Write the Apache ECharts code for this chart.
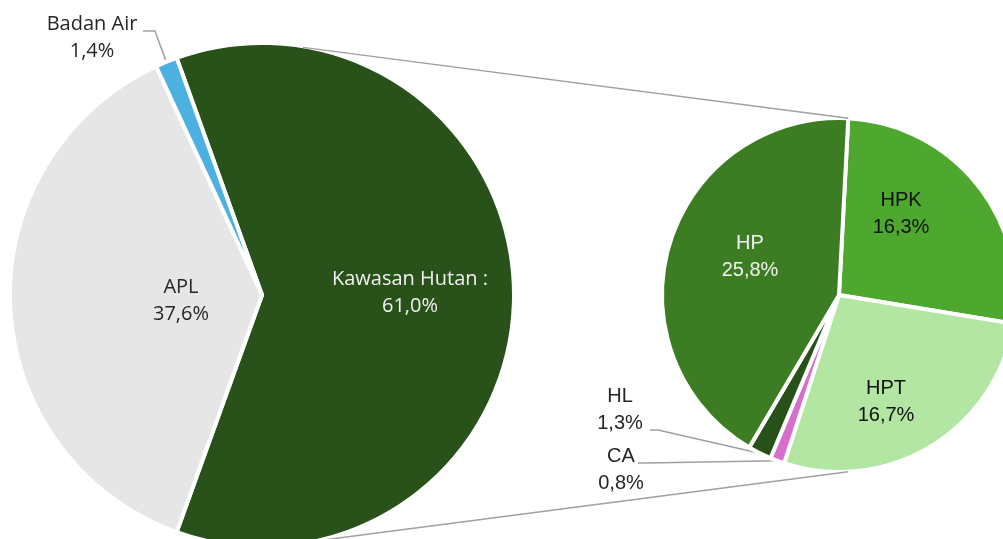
<!DOCTYPE html>
<html><head><meta charset="utf-8">
<script src="https://cdn.jsdelivr.net/npm/echarts@6/dist/echarts.min.js"></script>
<style>html,body{margin:0;padding:0;background:#fff}#c{width:1003px;height:539px}</style>
</head><body><div id="c"></div>
<script>
// ---- data ----
const mainCategories = ['Kawasan Hutan :', 'APL', 'Badan Air'];
const mainValues = [61.0, 37.6, 1.4];
const subCategories = ['HPK', 'HPT', 'CA', 'HL', 'HP'];
const subValues = [16.3, 16.7, 0.8, 1.3, 25.8];

// ---- layout / style ----
const fmt = v => v.toFixed(1).replace('.', ',') + '%';
const MAIN_CENTER = [262, 295], MAIN_R = 252;
const SUB_CENTER = [839, 295], SUB_R = 177;
const SUB_START = 87;
const CONNECT_MAIN_ANGLE = 80.6;
const LINE_GRAY = '#a0a0a0';
const MAIN_FONT = '"Open Sans", sans-serif';
const SUB_FONT = '"Liberation Sans", Arial, sans-serif';

const mainColors = { 'Kawasan Hutan :': '#285219', 'APL': '#e6e6e6', 'Badan Air': '#4cb0e0' };
const subColors = { HPK: '#4ea72e', HPT: '#b3e5a3', CA: '#d86ecc', HL: '#275118', HP: '#3c7d23' };
const mainLabelColors = { 'Kawasan Hutan :': '#f2f2f2', 'APL': '#262626', 'Badan Air': '#262626' };
const subLabelColors = { HPK: '#111', HPT: '#111', CA: '#262626', HL: '#262626', HP: '#f2f2f2' };

// label centers relative to pie centre; optional leader line points (after slice anchor)
const mainLabelPos = {
  'Kawasan Hutan :': { dx: 148, dy: -2 },
  'APL': { dx: -81, dy: 6 },
  'Badan Air': { dx: -170, dy: -257, line: [[-107, -264], [-119, -264]] }
};
const subLabelPos = {
  HP: { dx: -89, dy: -38 },
  HPK: { dx: 62, dy: -81 },
  HPT: { dx: 47, dy: 107 },
  HL: { dx: -219, dy: 115, line: [[-181, 135], [-189, 135]] },
  CA: { dx: -218, dy: 175, line: [[-193, 168], [-201, 168]] }
};

function buildData(cats, vals, colors, labelColors, posMap, font) {
  return cats.map((n, i) => {
    const outside = !!posMap[n].line;
    return {
      name: n, value: vals[i],
      itemStyle: { color: colors[n] },
      label: { position: outside ? 'outside' : 'inside', color: labelColors[n], fontFamily: font },
      labelLine: { show: outside, lineStyle: { color: LINE_GRAY, width: 1.5 }, length: 10, length2: 10 }
    };
  });
}

function layoutFn(cats, posMap, center) {
  return function (p) {
    const L = posMap[cats[p.dataIndex]];
    const out = { x: center[0] + L.dx, y: center[1] + L.dy, align: 'center', verticalAlign: 'middle' };
    if (L.line && p.labelLinePoints) {
      out.labelLinePoints = [p.labelLinePoints[0]].concat(L.line.map(q => [center[0] + q[0], center[1] + q[1]]));
    }
    return out;
  };
}

const mainTotal = mainValues.reduce((a, b) => a + b, 0);
const mainStart = mainValues[0] / mainTotal * 180;

function polar(c, r, deg) {
  const a = deg * Math.PI / 180;
  return [c[0] + r * Math.cos(a), c[1] - r * Math.sin(a)];
}
const pMainTop = polar(MAIN_CENTER, MAIN_R - 1, CONNECT_MAIN_ANGLE);
const pMainBot = polar(MAIN_CENTER, MAIN_R - 1, -CONNECT_MAIN_ANGLE);
const pSubTop = polar(SUB_CENTER, SUB_R, SUB_START);
const pSubBot = polar(SUB_CENTER, SUB_R, -SUB_START);

const labelBase = { show: true, fontSize: 20, lineHeight: 27, formatter: p => p.name + '\n' + fmt(p.value) };

const chart = echarts.init(document.getElementById('c'), null, { renderer: 'canvas' });
chart.setOption({
  animation: false,
  backgroundColor: '#ffffff',
  graphic: [
    { type: 'line', z: 10, shape: { x1: pMainTop[0], y1: pMainTop[1], x2: pSubTop[0], y2: pSubTop[1] }, style: { stroke: LINE_GRAY, lineWidth: 1.5 } },
    { type: 'line', z: 10, shape: { x1: pMainBot[0], y1: pMainBot[1], x2: pSubBot[0], y2: pSubBot[1] }, style: { stroke: LINE_GRAY, lineWidth: 1.5 } }
  ],
  series: [
    {
      type: 'pie', center: MAIN_CENTER, radius: [0, MAIN_R], startAngle: mainStart, clockwise: true,
      avoidLabelOverlap: false, silent: true,
      itemStyle: { borderColor: '#fff', borderWidth: 4 },
      label: Object.assign({}, labelBase, { fontSize: 20, fontFamily: MAIN_FONT }),
      labelLayout: layoutFn(mainCategories, mainLabelPos, MAIN_CENTER),
      data: buildData(mainCategories, mainValues, mainColors, mainLabelColors, mainLabelPos, MAIN_FONT)
    },
    {
      type: 'pie', center: SUB_CENTER, radius: [0, SUB_R], startAngle: SUB_START, clockwise: true,
      avoidLabelOverlap: false, silent: true,
      itemStyle: { borderColor: '#fff', borderWidth: 4 },
      label: Object.assign({}, labelBase, { fontSize: 20, fontFamily: SUB_FONT }),
      labelLayout: layoutFn(subCategories, subLabelPos, SUB_CENTER),
      data: buildData(subCategories, subValues, subColors, subLabelColors, subLabelPos, SUB_FONT)
    }
  ]
});
</script></body></html>
